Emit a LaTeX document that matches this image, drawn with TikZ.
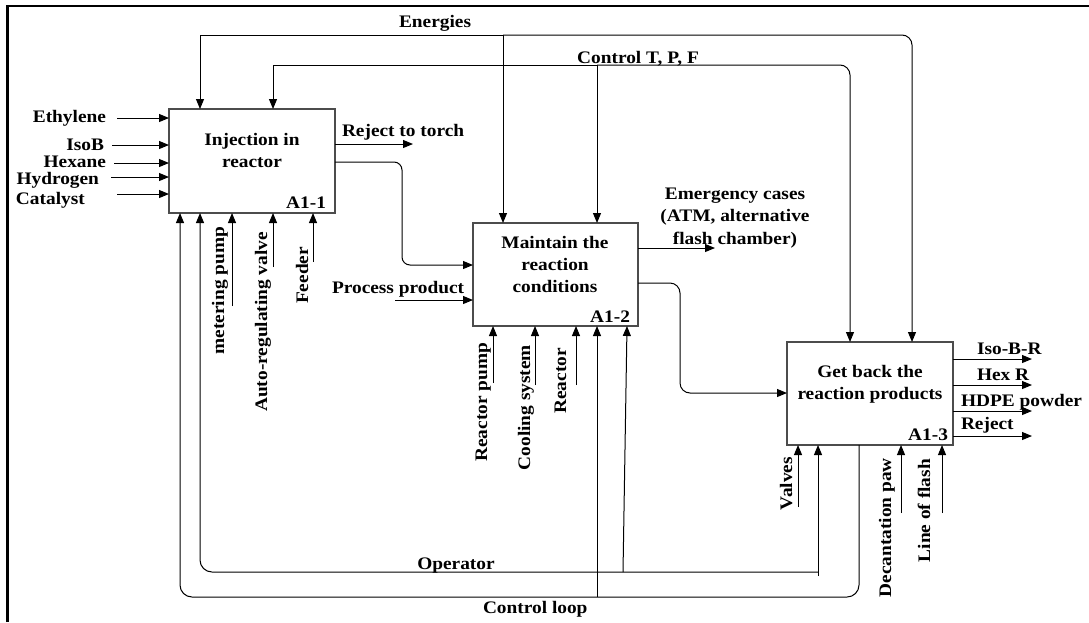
\documentclass[tikz,border=0pt]{standalone}
\usepackage{fontspec}
\setmainfont{Liberation Serif}[FakeStretch=1.1]
\usetikzlibrary{arrows.meta}
\newcommand{\lbfont}{\fontsize{17.6}{21}\selectfont\bfseries}
\tikzset{
  box/.style={draw=black!70, line width=1.3pt, inner sep=0pt, outer sep=0pt, anchor=north west},
  lbl/.style={font=\lbfont, inner sep=0pt, outer sep=0pt, anchor=base},
  lble/.style={lbl, anchor=base east},
  lblw/.style={lbl, anchor=base west},
  rot/.style={lbl, rotate=90, anchor=base east},
  arr/.style={-{Triangle[length=10pt,width=8pt]}, line width=1pt, draw=black},
  ln/.style={line width=1pt, draw=black}
}
\begin{document}
\begin{tikzpicture}[x=1pt,y=-1pt]
\useasboundingbox (0,0) rectangle (1089,622);
% frame
\draw[line width=2.2pt] (7.5,622) -- (7.5,6.2) -- (1089,6.2);

% boxes
\node[box, minimum width=166pt, minimum height=104pt] (b1) at (169,109) {};
\node[box, minimum width=165pt, minimum height=103pt] (b2) at (473,223) {};
\node[box, minimum width=166pt, minimum height=103pt] (b3) at (787,342) {};

% box texts
\node[lbl] (t1a) at (252,145) {Injection in};
\node[lbl] (t1b) at (252,167) {reactor};
\node[lble] (t1c) at (326,208) {A1-1};
\node[lbl] (t2a) at (555,248) {Maintain the};
\node[lbl] (t2b) at (555,270) {reaction};
\node[lbl] (t2c) at (555,292) {conditions};
\node[lble] (t2d) at (630,322) {A1-2};
\node[lbl] (t3a) at (870,377) {Get back the};
\node[lbl] (t3b) at (870,399) {reaction products};
\node[lble] (t3c) at (948,440) {A1-3};

% inputs of box 1
\coordinate (iEth) at (117,118);
\coordinate (iIso) at (112,145);
\coordinate (iHex) at (114,163);
\coordinate (iHyd) at (111,177);
\coordinate (iCat) at (117,194);
\draw[arr] (iEth) -- (iEth -| b1.west);
\draw[arr] (iIso) -- (iIso -| b1.west);
\draw[arr] (iHex) -- (iHex -| b1.west);
\draw[arr] (iHyd) -- (iHyd -| b1.west);
\draw[arr] (iCat) -- (iCat -| b1.west);
\node[lble] (lEth) at (106,122) {Ethylene};
\node[lble] (lIso) at (104,150) {IsoB};
\node[lble] (lHex) at (106,167) {Hexane};
\node[lble] (lHyd) at (99,184) {Hydrogen};
\node[lblw] (lCat) at (16,204) {Catalyst};

% Energies
\coordinate (enL) at (200,35);
\coordinate (enM) at (503,35);
\coordinate (enR) at (912,35);
\draw[arr] (enM) -- (enL) -- (enL |- b1.north);
\draw[arr, rounded corners=10pt] (enM) -- (enR) -- (enR |- b3.north);
\draw[arr] (enM) -- (enM |- b2.north);
\node[lblw] (lEn) at (399,27) {Energies};

% Control T, P, F
\coordinate (ctL) at (273,65);
\coordinate (ctM) at (597,65);
\coordinate (ctR) at (850,65);
\draw[arr] (ctM) -- (ctL) -- (ctL |- b1.north);
\draw[arr, rounded corners=10pt] (ctM) -- (ctR) -- (ctR |- b3.north);
\draw[arr] (ctM) -- (ctM |- b2.north);
\node[lbl] (lCt) at (638,63) {Control T, P, F};

% outputs of box 1
\coordinate (oRej) at (413,144);
\draw[arr] (oRej -| b1.east) -- (oRej);
\node[lblw] (lRej) at (342,136) {Reject to torch};
\coordinate (c12) at (402,162);
\coordinate (d12) at (402,265);
\draw[arr, rounded corners=8pt] (c12 -| b1.east) -- (c12) -- (d12) -- (d12 -| b2.west);

% input of box 2
\coordinate (iPP) at (395,300);
\draw[arr] (iPP) -- (iPP -| b2.west);
\node[lblw] (lPP) at (332,293) {Process product};

% outputs of box 2
\coordinate (oEm) at (715,248);
\draw[arr] (oEm -| b2.east) -- (oEm);
\node[lbl] (lEm1) at (735,199) {Emergency cases};
\node[lbl] (lEm2) at (735,221) {(ATM, alternative};
\node[lbl] (lEm3) at (735,244) {flash chamber)};
\coordinate (c23) at (680,283);
\coordinate (d23) at (680,393);
\draw[arr, rounded corners=10pt] (c23 -| b2.east) -- (c23) -- (d23) -- (d23 -| b3.west);

% outputs of box 3
\coordinate (o1) at (1032,359);
\coordinate (o2) at (1032,385);
\coordinate (o3) at (1032,411);
\coordinate (o4) at (1032,436);
\draw[arr] (o1 -| b3.east) -- (o1);
\draw[arr] (o2 -| b3.east) -- (o2);
\draw[arr] (o3 -| b3.east) -- (o3);
\draw[arr] (o4 -| b3.east) -- (o4);
\node[lblw] (lO1) at (977,354) {Iso-B-R};
\node[lblw] (lO2) at (977,380) {Hex R};
\node[lblw] (lO3) at (961,406) {HDPE powder};
\node[lblw] (lO4) at (961,429) {Reject};

% mechanisms of box 1
\coordinate (m11) at (232,306);
\coordinate (m12) at (273,267);
\coordinate (m13) at (313,262);
\draw[arr] (m11) -- (m11 |- b1.south);
\draw[arr] (m12) -- (m12 |- b1.south);
\draw[arr] (m13) -- (m13 |- b1.south);
\node[rot] (lM11) at (224,227) {metering pump};
\node[rot] (lM12) at (267,232) {Auto-regulating valve};
\node[rot] (lM13) at (308,247) {Feeder};

% mechanisms of box 2
\coordinate (m21) at (493,383);
\coordinate (m22) at (535,385);
\coordinate (m23) at (576,385);
\draw[arr] (m21) -- (m21 |- b2.south);
\draw[arr] (m22) -- (m22 |- b2.south);
\draw[arr] (m23) -- (m23 |- b2.south);
\node[rot] (lM21) at (487,343) {Reactor pump};
\node[rot] (lM22) at (530,345) {Cooling system};
\node[rot] (lM23) at (566,348) {Reactor};

% mechanisms of box 3
\coordinate (m31) at (798,507);
\coordinate (m32) at (901,513);
\coordinate (m33) at (942,513);
\draw[arr] (m31) -- (m31 |- b3.south);
\draw[arr] (m32) -- (m32 |- b3.south);
\draw[arr] (m33) -- (m33 |- b3.south);
\node[rot] (lM31) at (792,457) {Valves};
\node[rot] (lM32) at (891,458) {Decantation paw};
\node[rot] (lM33) at (930,459) {Line of flash};

% Operator
\coordinate (opR) at (818,572);
\coordinate (opL) at (200,572);
\coordinate (opM) at (623,572);
\coordinate (opE) at (818,576);
\draw[arr, rounded corners=12pt] (opR) -- (opL) -- (opL |- b1.south);
\draw[arr] (opE) -- (opE |- b3.south);
\draw[arr] (opM) -- ([xshift=4pt]opM |- b2.south);
\node[lbl] (lOp) at (456,569) {Operator};

% Control loop
\coordinate (clR) at (859,597);
\coordinate (clL) at (180,597);
\coordinate (clM) at (597,597);
\draw[arr, rounded corners=12pt] (clR |- b3.south) -- (clR) -- (clL) -- (clL |- b1.south);
\draw[arr] (clM) -- (clM |- b2.south);
\node[lblw] (lCl) at (483,613) {Control loop};
\end{tikzpicture}
\end{document}
